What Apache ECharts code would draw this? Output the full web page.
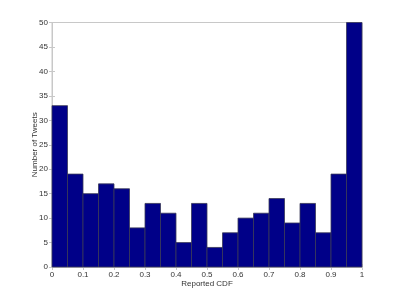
<!DOCTYPE html>
<html><head><meta charset="utf-8">
<script src="https://cdn.jsdelivr.net/npm/echarts@6/dist/echarts.min.js"></script>
<style>html,body{margin:0;padding:0;background:#fff}#c{width:400px;height:300px}</style>
</head><body><div id="c"></div>
<script>
var binStarts = [0, 0.05, 0.1, 0.15, 0.2, 0.25, 0.3, 0.35, 0.4, 0.45, 0.5, 0.55, 0.6, 0.65, 0.7, 0.75, 0.8, 0.85, 0.9, 0.95];
var binEnds = [0.05, 0.1, 0.15, 0.2, 0.25, 0.3, 0.35, 0.4, 0.45, 0.5, 0.55, 0.6, 0.65, 0.7, 0.75, 0.8, 0.85, 0.9, 0.95, 1];
var counts = [33, 19, 15, 17, 16, 8, 13, 11, 5, 13, 4, 7, 10, 11, 14, 9, 13, 7, 19, 50];
var xTitle = 'Reported CDF';
var yTitle = 'Number of Tweets';

var data = binStarts.map(function (s, i) { return [s, binEnds[i], counts[i]]; });
var chart = echarts.init(document.getElementById('c'), null, {renderer: 'canvas'});
var lab = {color: '#333', fontSize: 8, fontFamily: 'Liberation Sans, Arial, sans-serif'};
var axisLineC = '#c8c8c8';
chart.setOption({
  animation: false,
  grid: {left: 52, top: 22.5, width: 310, height: 244.5, show: true, borderColor: axisLineC, borderWidth: 1},
  xAxis: [{
    type: 'value', min: 0, max: 1, interval: 0.1, position: 'bottom',
    name: xTitle, nameLocation: 'middle', nameGap: 12.5, nameMoveOverlap: false,
    nameTextStyle: lab,
    axisLine: {show: true, lineStyle: {color: axisLineC}},
    axisTick: {show: true, inside: true, length: 3, lineStyle: {color: axisLineC}},
    axisLabel: Object.assign({margin: 4, formatter: function (v) { return String(+v.toFixed(1)); }}, lab),
    splitLine: {show: false}
  }, {
    type: 'value', min: 0, max: 1, interval: 0.1, position: 'top',
    axisLine: {show: true, lineStyle: {color: axisLineC}},
    axisTick: {show: true, inside: true, length: 3, lineStyle: {color: axisLineC}},
    axisLabel: {show: false}, splitLine: {show: false}
  }],
  yAxis: [{
    type: 'value', min: 0, max: 50, interval: 5, position: 'left',
    name: yTitle, nameLocation: 'middle', nameGap: 13, nameRotate: 90, nameMoveOverlap: false,
    nameTextStyle: lab,
    axisLine: {show: true, lineStyle: {color: axisLineC}},
    axisTick: {show: true, inside: true, length: 3, lineStyle: {color: axisLineC}},
    axisLabel: Object.assign({margin: 4}, lab),
    splitLine: {show: false}
  }, {
    type: 'value', min: 0, max: 50, interval: 5, position: 'right',
    axisLine: {show: true, lineStyle: {color: axisLineC}},
    axisTick: {show: true, inside: true, length: 3, lineStyle: {color: axisLineC}},
    axisLabel: {show: false}, splitLine: {show: false}
  }],
  series: [{
    type: 'custom',
    xAxisIndex: 0, yAxisIndex: 0,
    data: data,
    encode: {x: [0, 1], y: 2},
    renderItem: function (params, api) {
      var p0 = api.coord([api.value(0), api.value(2)]);
      var p1 = api.coord([api.value(1), 0]);
      return {
        type: 'rect',
        shape: {x: p0[0], y: p0[1], width: p1[0] - p0[0], height: p1[1] - p0[1]},
        style: {fill: '#000088', stroke: '#3a3a58', lineWidth: 0.8}
      };
    }
  }]
});
</script></body></html>
